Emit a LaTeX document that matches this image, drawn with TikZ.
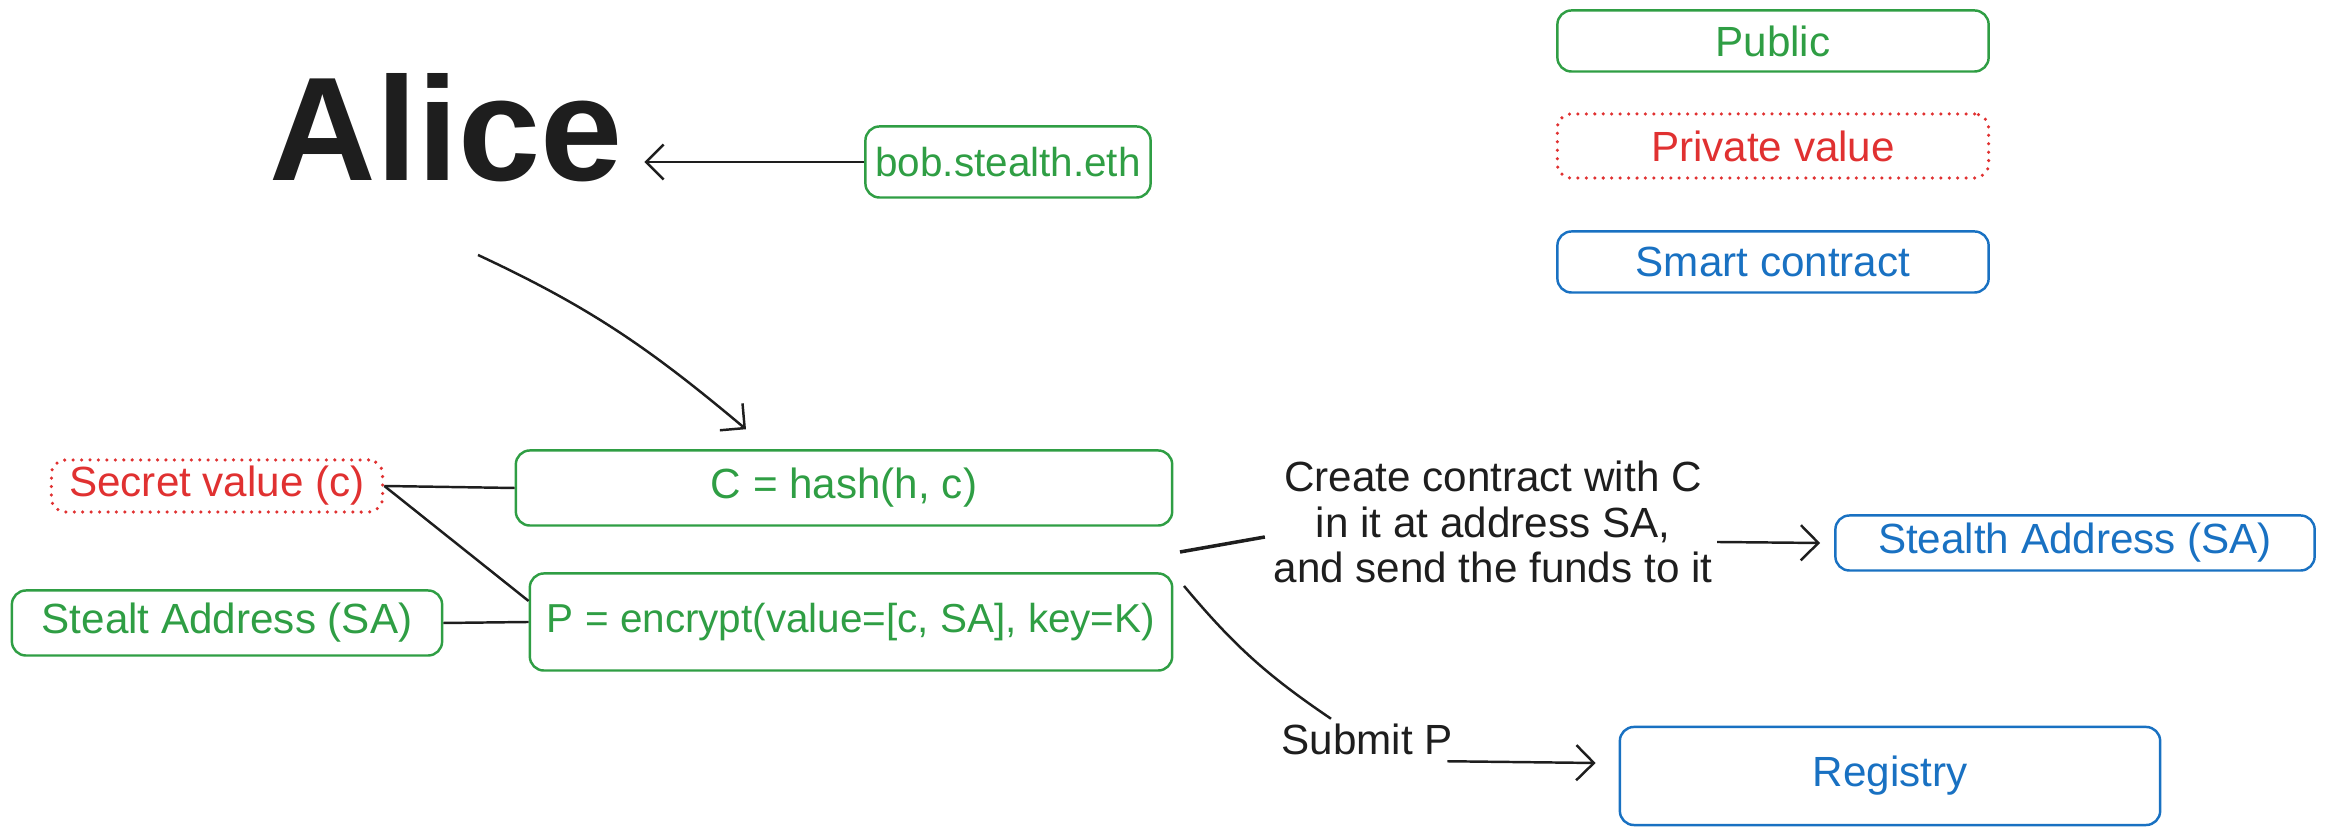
\documentclass[tikz,border=0pt]{standalone}
\usepackage{fontspec}
\setmainfont{Liberation Sans}
\usepackage{tikz}
\usetikzlibrary{calc,arrows.meta}

\definecolor{pubgreen}{HTML}{2F9E44}
\definecolor{privred}{HTML}{E03131}
\definecolor{scblue}{HTML}{1971C2}
\definecolor{ink}{HTML}{1E1E1E}

\begin{document}
\begin{tikzpicture}[x=0.01cm,y=0.01cm,
    every node/.style={font=\fontsize{12}{13}\selectfont},
    box/.style={draw,rounded corners=4pt,line width=0.7pt,inner sep=0pt},
    pub/.style={box,draw=pubgreen,text=pubgreen},
    priv/.style={box,draw=privred,text=privred,line width=1pt,line cap=round,dash pattern=on 0pt off 2.4pt},
    sc/.style={box,draw=scblue,text=scblue},
    note/.style={text=ink,inner sep=4pt,align=center},
    link/.style={draw=ink,line width=0.7pt},
    arr/.style={link,-{Straight Barb[length=5pt,width=10pt]}}]
  \useasboundingbox (0,0) rectangle (2327,840);

  \node[pub,minimum width=4.31cm,minimum height=0.61cm] (public) at (1773,799) {Public};
  \node[priv,minimum width=4.31cm,minimum height=0.64cm] (private) at (1773,694) {Private value};
  \node[sc,minimum width=4.31cm,minimum height=0.61cm] (smart) at (1773,578) {Smart contract};

  \node[text=ink,inner sep=6pt,font=\fontsize{42}{42}\selectfont\bfseries] (alice) at (446,712) {Alice};
  \node[pub,minimum width=2.85cm,minimum height=0.71cm,font=\fontsize{11.5}{13}\selectfont] (bob) at (1008,678) {bob.stealth.eth};

  \node[priv,minimum width=3.31cm,minimum height=0.52cm] (secret) at (217,354) {Secret value (c)};
  \node[pub,minimum width=6.56cm,minimum height=0.75cm] (hash) at (844,352) {C = hash(h, c)};
  \node[pub,minimum width=4.30cm,minimum height=0.65cm] (sa) at (227,217) {Stealt Address (SA)};
  \node[pub,minimum width=6.42cm,minimum height=0.97cm,font=\fontsize{11.5}{13}\selectfont] (enc) at (851,218) {P = encrypt(value=[c, SA], key=K)};

  \node[note] (create) at (1493,318) {Create contract with C\\in it at address SA,\\and send the funds to it};
  \node[sc,minimum width=4.79cm,minimum height=0.55cm] (stealth) at (2075,297) {Stealth Address (SA)};
  \node[note] (submit) at (1367,101) {Submit P};
  \node[sc,minimum width=5.40cm,minimum height=0.98cm] (registry) at (1890,64) {Registry};

  \coordinate (aliceout) at (478,585);
  \coordinate (ctout) at (1180,288);
  \coordinate (pout) at (1184,254);

  \draw[arr] (bob.west) -- (bob.west -| alice.east);
  \draw[arr] (aliceout) to[out=-25,in=140] ($(hash.north)+(-98,20)$);
  \path[link] (secret.east) edge (hash.west) edge ($(enc.west)+(0,21)$)
    (sa.east) edge (enc.west);
  \draw[link,line width=1pt] (ctout) -- ($(create.west)+(6,-15)$);
  \draw[arr] ($(create.east)+(-10,-20)$) -- ([xshift=-0.14cm]stealth.west);
  \draw[link] (pout) to[bend right=8] ($(submit.north)+(-36,-10)$);
  \draw[arr] ($(submit.south east)+(-20,8)$) -- ($(registry.west)+(-23,13)$);
\end{tikzpicture}
\end{document}
